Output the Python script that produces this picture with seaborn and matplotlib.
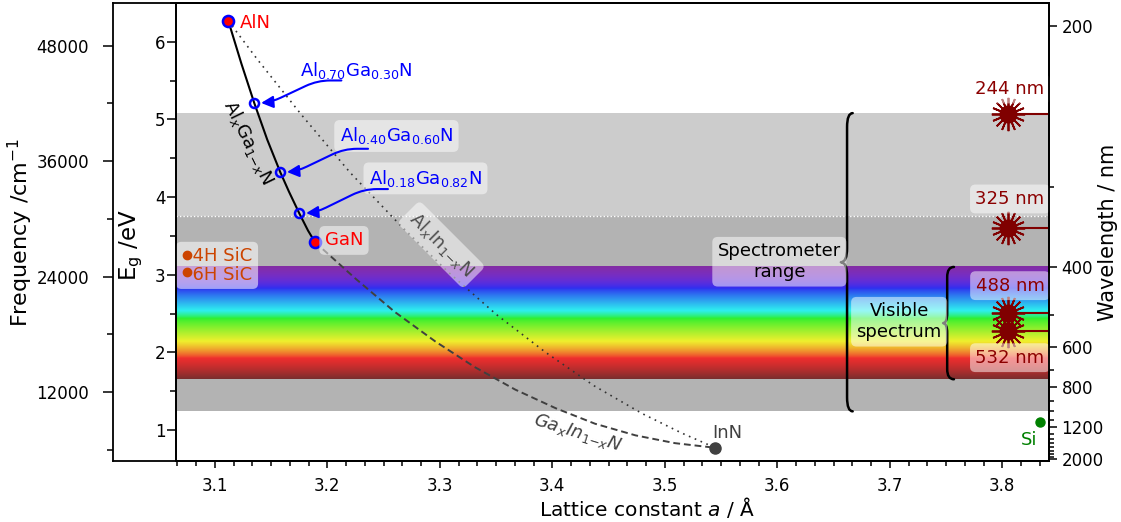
import numpy as np
import pandas as pd
import matplotlib
matplotlib.use("Agg")
import matplotlib.pyplot as plt
import seaborn as sns
from matplotlib.path import Path
from matplotlib.patches import PathPatch
from matplotlib.ticker import MultipleLocator, FixedLocator, FixedFormatter, FormatStrFormatter

HC = 1239.84          # eV * nm
CM_PER_EV = 8065.54   # cm^-1 per eV

# ---------------- data ----------------
binary_names = ["AlN", "GaN", "InN"]
binary_a = [3.112, 3.189, 3.545]
binary_E = [6.27, 3.42, 0.77]

algan_a = [3.112, 3.1236, 3.1351, 3.1466, 3.1582, 3.1659, 3.1751, 3.1828, 3.189]
algan_E = [6.27, 5.72, 5.21, 4.74, 4.32, 4.07, 3.79, 3.57, 3.42]

alinn_a = [3.112, 3.138, 3.177, 3.220, 3.264, 3.307, 3.350, 3.394, 3.437, 3.480, 3.515, 3.545]
alinn_E = [6.27, 5.77, 5.06, 4.32, 3.65, 3.04, 2.49, 2.00, 1.57, 1.21, 0.96, 0.77]

gainn_a = [3.189, 3.225, 3.260, 3.296, 3.331, 3.367, 3.403, 3.438, 3.474, 3.509, 3.545]
gainn_E = [3.42, 2.95, 2.52, 2.14, 1.81, 1.52, 1.28, 1.08, 0.93, 0.83, 0.77]

alloy_labels = [r"Al$_{0.70}$Ga$_{0.30}$N", r"Al$_{0.40}$Ga$_{0.60}$N", r"Al$_{0.18}$Ga$_{0.82}$N"]
alloy_a = [3.135, 3.158, 3.175]
alloy_E = [5.21, 4.32, 3.79]

laser_nm = [244, 325, 488, 532]
laser_E = [5.07, 3.60, 2.51, 2.28]

sic_names = ["4H SiC", "6H SiC"]
sic_E = [3.26, 3.04]
si_E = [1.10]

spectro_nm = [244, 1000]
uv_split_nm = 330
visible_nm = [400, 750]

wl_major = [200, 400, 600, 800, 1200, 2000]
wl_minor = [300, 500, 700, 900, 1000, 1100, 1300, 1400, 1500, 1600, 1700, 1800, 1900]
freq_major = [12000, 24000, 36000, 48000]
freq_minor = [6000, 18000, 30000, 42000]

# ---------------- style ----------------
sns.set_theme(style="ticks")
plt.rcParams["font.family"] = ["DejaVu Sans"]
plt.rcParams["mathtext.fontset"] = "dejavusans"
plt.rcParams["axes.linewidth"] = 1.3
for k in ["axes.edgecolor", "text.color", "axes.labelcolor", "xtick.color", "ytick.color"]:
    plt.rcParams[k] = "black"

XLIM = (3.0655, 3.8415)
YLIM = (0.6, 6.5)
LASER = "#800000"
LASER_TXT = "#8b0000"
TXT = 13
BOX = dict(boxstyle="round,pad=0.3", fc="white", ec="none", alpha=0.5)


def wl_rgb(wl, gamma=0.8):
    if wl < 440:
        att = 0.3 + 0.7 * (wl - 380) / 60
        r = ((440 - wl) / 60 * att) ** gamma; g = 0.0; b = att ** gamma
    elif wl < 490:
        r = 0.0; g = ((wl - 440) / 50) ** gamma; b = 1.0
    elif wl < 510:
        r = 0.0; g = 1.0; b = ((510 - wl) / 20) ** gamma
    elif wl < 580:
        r = ((wl - 510) / 70) ** gamma; g = 1.0; b = 0.0
    elif wl < 645:
        r = 1.0; g = ((645 - wl) / 65) ** gamma; b = 0.0
    else:
        att = 0.3 + 0.7 * (750 - wl) / 105
        r = att ** gamma; g = 0.0; b = 0.0
    return r, g, b


def brace(ax, xm, xt, xh, ytop, ybot, r, lw=1.8):
    ym = 0.5 * (ytop + ybot)
    verts = [(xh, ytop), (xm, ytop), (xm, ytop - r),
             (xm, ym + r), (xm, ym), (xt, ym),
             (xm, ym), (xm, ym - r),
             (xm, ybot + r), (xm, ybot), (xh, ybot)]
    codes = [Path.MOVETO, Path.CURVE3, Path.CURVE3,
             Path.LINETO, Path.CURVE3, Path.CURVE3,
             Path.CURVE3, Path.CURVE3,
             Path.LINETO, Path.CURVE3, Path.CURVE3]
    ax.add_patch(PathPatch(Path(verts, codes), fc="none", ec="black", lw=lw, zorder=7,
                           capstyle="round", joinstyle="round"))


fig = plt.figure(figsize=(11.21, 5.22), dpi=100)
W, H = 1121.0, 522.0
B = 1 - 461 / H
T = 1 - 3 / H
R = 1049 / W
ax_bg = fig.add_axes([113 / W, B, R - 113 / W, T - B])
ax = fig.add_axes([176 / W, B, R - 176 / W, T - B])
ax.patch.set_alpha(0)

# ---- frequency axis (outer left) ----
ax_bg.set_xticks([])
ax_bg.set_ylim(YLIM[0] * CM_PER_EV, YLIM[1] * CM_PER_EV)
ax_bg.yaxis.set_major_locator(FixedLocator(freq_major))
ax_bg.yaxis.set_minor_locator(FixedLocator(freq_minor))
ax_bg.yaxis.set_major_formatter(FormatStrFormatter("%d"))
ax_bg.tick_params(axis="y", which="major", length=7.2, width=1.1, pad=10, labelsize=12, direction="out")
ax_bg.tick_params(axis="y", which="minor", length=4.3, width=1.1, direction="out")
ax_bg.spines["right"].set_visible(False)
ax_bg.set_ylabel("Frequency /cm$^{-1}$", fontsize=16)
ax_bg.yaxis.set_label_coords(-0.083, 0.5)

# ---- background bands ----
ax.axhspan(HC / uv_split_nm, HC / spectro_nm[0], color="#cccccc", lw=0, zorder=0)
ax.axhspan(HC / spectro_nm[1], HC / uv_split_nm, color="#b3b3b3", lw=0, zorder=0)
ax.axhline(HC / uv_split_nm, color="white", ls=(0, (1, 1.5)), lw=1.0, zorder=0.5)

E_vis = np.linspace(HC / visible_nm[1], HC / visible_nm[0], 400)
spec = np.array([wl_rgb(HC / e) for e in E_vis])
img = 0.76 * spec + 0.18
ax.imshow(img[:, None, :], extent=[XLIM[0], XLIM[1], E_vis[0], E_vis[-1]], origin="lower",
          aspect="auto", zorder=0.6, interpolation="bilinear")

# ---- alloy curves ----
sns.lineplot(x=algan_a, y=algan_E, ax=ax, color="black", lw=1.5, sort=False, estimator=None, zorder=3)
sns.lineplot(x=alinn_a, y=alinn_E, ax=ax, color="#333333", lw=1.2, sort=False, estimator=None, zorder=3)
ax.lines[-1].set_linestyle((0, (1, 2.8)))
sns.lineplot(x=gainn_a, y=gainn_E, ax=ax, color="#404040", lw=1.4, sort=False, estimator=None, zorder=3)
ax.lines[-1].set_linestyle((0, (3.5, 2)))

# ---- markers ----
ax.plot(binary_a[:2], binary_E[:2], "o", ms=8, mfc="red", mec="blue", mew=1.8, zorder=8)
ax.plot(binary_a[2:], binary_E[2:], "o", ms=8, color="#404040", zorder=8)
ax.plot(alloy_a, alloy_E, "o", ms=6.5, mfc="none", mec="blue", mew=1.8, zorder=8)

ax.text(3.1222, 6.176, "AlN", color="red", fontsize=TXT, ha="left", va="baseline", zorder=9)
ax.text(3.1977, 3.377, "GaN", color="red", fontsize=TXT, ha="left", va="baseline", zorder=9, bbox=BOX)
ax.text(3.5423, 0.897, "InN", color="#404040", fontsize=TXT, ha="left", va="baseline", zorder=9)

# alloy annotations
lab_pos = [(3.1755, 5.562), (3.211, 4.716), (3.237, 4.17)]
arr_start = [(3.2125, 5.502), (3.2362, 4.622), (3.2539, 4.103)]
for lab, (tx, ty), (sx, sy), a, e in zip(alloy_labels, lab_pos, arr_start, alloy_a, alloy_E):
    ax.text(tx, ty, lab, color="blue", fontsize=TXT, ha="left", va="baseline", zorder=9, bbox=BOX)
    ax.annotate("", xy=(a, e), xytext=(sx, sy), zorder=9,
                arrowprops=dict(arrowstyle="-|>,head_length=0.6,head_width=0.3", color="blue", lw=1.5,
                                mutation_scale=12, shrinkA=0, shrinkB=5,
                                connectionstyle="arc,angleA=180,armA=24,angleB=0,armB=15,rad=13"))

ax.text(3.1296, 4.706, r"Al$_x$Ga$_{1\mathregular{-}x}$N", color="black", fontsize=TXT, rotation=-64,
        ha="center", va="center", rotation_mode="anchor", zorder=9)
ax.text(3.3013, 3.386, r"Al$_x$In$_{1\mathregular{-}x}$N", color="#4d4d4d", fontsize=TXT, rotation=-45,
        ha="center", va="center", rotation_mode="anchor", zorder=9, bbox=BOX)
ax.text(3.4224, 0.965, r"Ga$_x$In$_{1\mathregular{-}x}$N", color="#404040", fontsize=TXT, rotation=-17,
        ha="center", va="center", rotation_mode="anchor", zorder=9, style="italic")

# ---- SiC / Si ----
ax.plot([3.075] * len(sic_E), sic_E, "o", ms=6, color="#cc4400", zorder=8)
ax.text(3.0703, 0.5 * (sic_E[0] + sic_E[1]) - 0.03, "\n".join("  " + s for s in sic_names),
        color="#cc4400", fontsize=TXT, ha="left", va="center", linespacing=1.02, zorder=7,
        bbox=dict(boxstyle="round,pad=0.3", fc="white", ec="none", alpha=0.55))
ax.plot([3.8336], si_E, "o", ms=6.5, color="green", zorder=8)
ax.text(3.831, 0.811, "Si", color="green", fontsize=TXT, ha="right", va="baseline", zorder=9)

# ---- lasers ----
laser_x = 3.805
laser_dy = [18, 21, 19.5, -19.5]
for e in laser_E:
    ax.plot([laser_x, XLIM[1]], [e, e], color=LASER, lw=1.5, zorder=5, solid_capstyle="butt")
ax.plot([laser_x] * len(laser_E), laser_E, ls="none", marker=(16, 2, 0), ms=24, mew=1.3, color=LASER, zorder=6)
ax.plot([laser_x] * len(laser_E), laser_E, ls="none", marker="o", ms=12, color=LASER, zorder=6)
for nm, e, dy in zip(laser_nm, laser_E, laser_dy):
    ax.annotate(f"{nm} nm", xy=(laser_x, e), xytext=(1.5, dy), textcoords="offset points",
                ha="center", va="center", color=LASER_TXT, fontsize=TXT, zorder=9, bbox=BOX)

# ---- braces ----
brace(ax, 3.662, 3.6565, 3.667, HC / spectro_nm[0], HC / spectro_nm[1], 0.18)
brace(ax, 3.751, 3.7474, 3.757, HC / visible_nm[0], HC / visible_nm[1], 0.13)
ax.text(3.6018, 3.167, "Spectrometer\nrange", fontsize=TXT, ha="center", va="center", zorder=9,
        color="black", bbox=BOX)
ax.text(3.7083, 2.394, "Visible\nspectrum", fontsize=TXT, ha="center", va="center", zorder=9,
        color="black", bbox=BOX)

# ---- main axes ----
ax.set_xlim(*XLIM)
ax.set_ylim(*YLIM)
ax.xaxis.set_major_locator(MultipleLocator(0.1))
ax.xaxis.set_minor_locator(MultipleLocator(0.1 / 6))
ax.xaxis.set_major_formatter(FormatStrFormatter("%.1f"))
ax.yaxis.set_major_locator(MultipleLocator(1))
ax.yaxis.set_minor_locator(MultipleLocator(0.5))
ax.tick_params(axis="x", which="major", length=5, width=1.1, pad=6.5, labelsize=12, direction="out")
ax.tick_params(axis="x", which="minor", length=3.4, width=1.1, direction="out")
ax.tick_params(axis="y", which="major", length=6.5, width=1.1, pad=1, labelsize=12, direction="out")
ax.tick_params(axis="y", which="minor", length=4.3, width=1.1, direction="out")
ax.set_xlabel("Lattice constant $a$ / Å", fontsize=14.5)
ax.xaxis.set_label_coords(0.539, -0.075)
ax.set_ylabel("E$_\\mathregular{g}$ /eV", fontsize=16.5)
ax.yaxis.set_label_coords(-0.0355, 0.472)

# ---- wavelength axis ----
ax_r = ax.twinx()
ax_r.set_ylim(*YLIM)
ax_r.yaxis.set_major_locator(FixedLocator([HC / w for w in wl_major]))
ax_r.yaxis.set_major_formatter(FixedFormatter([str(w) for w in wl_major]))
ax_r.yaxis.set_minor_locator(FixedLocator([HC / w for w in wl_minor]))
ax_r.tick_params(axis="y", which="major", length=6, width=1.1, pad=3, labelsize=12, direction="out")
ax_r.tick_params(axis="y", which="minor", length=3.5, width=1.1, direction="out")
ax_r.set_ylabel("Wavelength / nm", fontsize=15)
ax_r.yaxis.set_label_coords(1.0561, 0.5)

fig.savefig("out.png", dpi=100)
